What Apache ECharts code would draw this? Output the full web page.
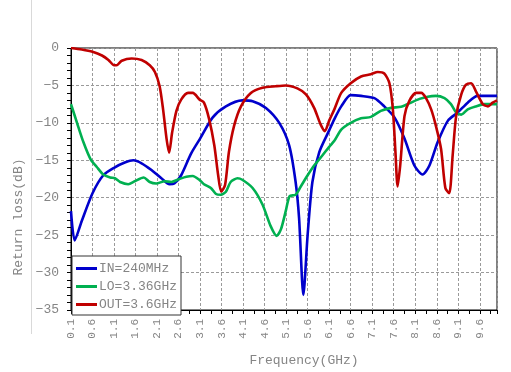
<!DOCTYPE html>
<html>
<head>
<meta charset="utf-8">
<script src="https://cdn.jsdelivr.net/npm/echarts@6/dist/echarts.min.js"></script>
<style>html,body{margin:0;padding:0;background:#fff;}#chart{width:511px;height:372px;}</style>
</head>
<body>
<div id="chart"></div>
<script>
// Frequencies (GHz) and return loss (dB)
const IN_FREQ = [0.1,0.185,0.35,0.6,0.85,1.1,1.35,1.55,1.74,1.97,2.2,2.39,2.5,2.66,2.89,3.1,3.39,3.7,4.08,4.32,4.63,4.94,5.17,5.32,5.4,5.5,5.6,5.71,5.87,6.1,6.22,6.38,6.6,6.84,7.15,7.38,7.62,7.85,8.08,8.27,8.43,8.62,8.86,9.09,9.32,9.55,10.0];
const IN_DB   = [-21.8,-25.7,-23.1,-19.4,-17.0,-16.0,-15.3,-15.0,-15.4,-16.3,-17.4,-18.2,-18.1,-17.0,-14.1,-12.1,-9.3,-7.8,-7.0,-7.1,-8.0,-10.0,-13.0,-17.9,-22.7,-33.0,-24.9,-17.9,-13.9,-11.0,-9.5,-7.8,-6.3,-6.4,-6.7,-7.8,-9.3,-12.1,-15.7,-16.9,-15.7,-12.6,-9.7,-8.6,-7.3,-6.4,-6.4];

const LO_FREQ = [0.1,0.24,0.39,0.55,0.7,0.85,1.01,1.12,1.24,1.43,1.58,1.79,1.93,2.08,2.28,2.43,2.62,2.78,2.93,3.08,3.19,3.35,3.47,3.58,3.7,3.81,3.97,4.08,4.32,4.55,4.74,4.88,4.98,5.09,5.18,5.32,5.44,5.6,5.75,5.95,6.1,6.22,6.38,6.6,6.84,7.07,7.3,7.54,7.77,7.96,8.2,8.39,8.58,8.78,8.93,9.05,9.17,9.32,9.51,9.71,10.0];
const LO_DB   = [-7.5,-10.0,-12.6,-14.8,-15.9,-16.9,-17.3,-17.4,-17.9,-18.2,-17.8,-17.3,-17.9,-18.1,-17.8,-17.9,-17.5,-17.2,-17.1,-17.6,-18.2,-18.7,-19.5,-19.6,-19.2,-17.9,-17.4,-17.6,-18.7,-20.9,-23.8,-25.1,-24.2,-21.8,-19.8,-19.6,-18.5,-17.0,-15.7,-14.3,-13.2,-12.4,-10.9,-10.0,-9.4,-9.2,-8.4,-8.0,-7.85,-7.4,-6.8,-6.5,-6.4,-6.7,-7.5,-8.6,-8.9,-8.2,-7.8,-7.5,-7.5];

const OUT_FREQ = [0.1,0.35,0.6,0.82,0.97,1.1,1.16,1.28,1.51,1.74,1.93,2.05,2.16,2.24,2.32,2.38,2.45,2.55,2.66,2.82,2.93,3.09,3.19,3.31,3.43,3.52,3.59,3.68,3.77,3.89,4.05,4.28,4.55,4.86,5.09,5.36,5.56,5.75,5.9,6.0,6.1,6.22,6.38,6.6,6.84,7.07,7.23,7.38,7.5,7.58,7.64,7.69,7.75,7.85,7.96,8.12,8.24,8.35,8.47,8.58,8.7,8.8,8.89,8.97,9.05,9.17,9.28,9.4,9.51,9.67,9.79,9.9,10.0];
const OUT_DB   = [0,-0.2,-0.5,-1.0,-1.6,-2.3,-2.3,-1.7,-1.4,-1.6,-2.3,-3.2,-5.1,-8.2,-12.1,-14.0,-11.3,-8.4,-6.9,-6.0,-6.0,-6.9,-7.3,-9.5,-13.0,-17.0,-19.2,-18.3,-13.9,-10.4,-7.8,-6.0,-5.3,-5.1,-5.0,-5.4,-6.2,-8.0,-10.2,-11.1,-9.7,-8.2,-6.0,-4.7,-3.8,-3.5,-3.2,-3.4,-4.7,-8.2,-13.9,-18.5,-15.7,-9.1,-7.1,-6.0,-6.0,-6.7,-8.2,-10.4,-13.5,-18.7,-19.4,-14.3,-9.1,-6.2,-4.9,-4.7,-5.8,-7.5,-7.8,-7.3,-7.0];

const SERIES_NAMES = ['IN=240MHz','LO=3.36GHz','OUT=3.6GHz'];
const F_START = 0.1;   // first frequency tick
const F_END = 10.0;
const F_STEP = 0.5;

const FONT = 'Liberation Mono';
const TXT = '#858585';

function pts(f, v){ return f.map((x,i)=>[+(x - F_START).toFixed(4), v[i]]); }

const chart = echarts.init(document.getElementById('chart'), null, {renderer:'canvas'});
const lineS = (name, f, v, color) => ({
  name, type:'line', data: pts(f,v), showSymbol:false, smooth:0.25,
  lineStyle:{color, width:2.6}, itemStyle:{color}, z:3
});
chart.setOption({
  animation:false,
  backgroundColor:'#fff',
  textStyle:{fontFamily:FONT},
  grid:{left:71, right:14, top:48, bottom:57, show:true, borderColor:'#000', borderWidth:1},
  legend:{
    orient:'vertical', left:72, bottom:57, data:SERIES_NAMES,
    backgroundColor:'#fff', borderColor:'#333', borderWidth:1, borderRadius:0,
    padding:[6,4,4,4], itemGap:5, itemWidth:21, itemHeight:3, icon:'rect',
    textStyle:{fontFamily:FONT, fontSize:13, color:TXT, padding:[0,0,0,-3]}
  },
  graphic:[{type:'line', shape:{x1:31.5,y1:0,x2:31.5,y2:334}, style:{stroke:'#d9d9d9', lineWidth:1}, silent:true}],
  xAxis:{
    type:'value', min:0, max:+(F_END-F_START).toFixed(4), interval:F_STEP,
    name:'Frequency(GHz)', nameLocation:'middle', nameGap:44,
    nameTextStyle:{fontFamily:FONT, fontSize:13, color:TXT, padding:[0,0,0,40]},
    axisLine:{show:true, onZero:false, lineStyle:{color:'#000', width:1}},
    axisTick:{show:true, length:4, lineStyle:{color:'#000'}},
    minorTick:{show:true, splitNumber:2, length:4, lineStyle:{color:'#000'}},
    splitLine:{show:true, lineStyle:{color:'#9a9a9a', type:[3,2], width:1}},
    axisLabel:{rotate:90, fontFamily:FONT, fontSize:11, color:TXT, margin:9, showMaxLabel:false,
      formatter:(v)=> (v + F_START).toFixed(1)}
  },
  yAxis:{
    type:'value', min:-35, max:0, interval:5,
    name:'Return loss(dB)', nameLocation:'middle', nameGap:46,
    nameTextStyle:{fontFamily:FONT, fontSize:13, color:TXT, padding:[0,76,0,0]},
    axisLine:{show:true, lineStyle:{color:'#000', width:1}},
    axisTick:{show:true, length:4, lineStyle:{color:'#000'}},
    minorTick:{show:true, splitNumber:5, length:4, lineStyle:{color:'#000'}},
    splitLine:{show:true, lineStyle:{color:'#9a9a9a', type:[3,2], width:1}},
    axisLabel:{fontFamily:FONT, fontSize:13, color:TXT, margin:12,
      formatter:(v)=> String(v).replace('-','\u2212')}
  },
  series:[
    lineS(SERIES_NAMES[0], IN_FREQ, IN_DB, '#0000cc'),
    lineS(SERIES_NAMES[1], LO_FREQ, LO_DB, '#00b050'),
    lineS(SERIES_NAMES[2], OUT_FREQ, OUT_DB, '#c00000')
  ]
});
</script>
</body>
</html>
